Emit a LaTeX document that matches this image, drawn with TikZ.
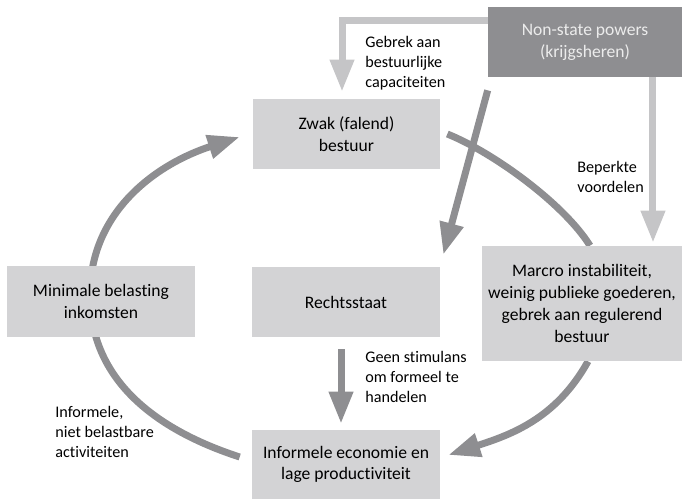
\documentclass[tikz,border=0pt]{standalone}
\usepackage{fontspec}
\setmainfont[Ligatures=NoCommon]{Carlito}
\usetikzlibrary{arrows.meta,backgrounds}

\definecolor{boxgrey}{RGB}{211,211,213}
\definecolor{darkgrey}{RGB}{142,142,145}
\definecolor{lightgrey}{RGB}{197,197,199}
\definecolor{textgrey}{RGB}{236,236,236}

\tikzset{
	box/.style={fill=boxgrey, minimum width=3.76cm, minimum height=1.4cm, align=center, inner sep=0pt, font=\fontsize{10}{12.4}\selectfont},
	note/.style={align=left, inner sep=0pt, font=\fontsize{9.2}{11.3}\selectfont},
	darkarrow/.style={line width=0.14cm, color=darkgrey, -{Triangle[width=0.46cm,length=0.64cm]}},
	lightarrow/.style={line width=0.14cm, color=lightgrey, -{Triangle[width=0.46cm,length=0.64cm]}},
	darkline/.style={line width=0.14cm, color=darkgrey},
}

\begin{document}
\begin{tikzpicture}[x=0.02cm, y=0.02cm]
		%%%%% START %%%%%
		\useasboundingbox (0,0) rectangle (682,499);
		
		\node[box, fill=darkgrey, text=textgrey, minimum width=3.88cm] (nonstate) at (585,457) {Non-state powers\\(krijgsheren)};
		\node[box, minimum width=3.74cm] (zwak) at (346.5,365) {Zwak (falend)\\bestuur};
		\node[box] (recht) at (346,197) {Rechtsstaat};
		\node[box, minimum height=1.42cm] (minimale) at (101,197.5) {Minimale belasting\\inkomsten};
		\node[box, minimum width=4cm, minimum height=2.3cm] (macro) at (582,195.5) {Marcro instabiliteit,\\weinig publieke goederen,\\gebrek aan regulerend\\bestuur};
		\node[box, minimum height=1.38cm] (informele) at (346,34.5) {Informele economie en\\lage productiviteit};
		
		\node[note, anchor=west] (gebrek) at (365,436) {Gebrek aan\\bestuurlijke\\capaciteiten};
		\node[note, anchor=west] (beperkte) at (577,322) {Beperkte\\voordelen};
		\node[note, anchor=west] (geen) at (365,122) {Geen stimulans\\om formeel te\\handelen};
		\node[note, anchor=west] (nietbelast) at (55,67) {Informele,\\niet belastbare\\activiteiten};
		
		\begin{scope}[on background layer]
			\draw[lightarrow, shorten >=0.14cm] ([yshift=-0.28cm]nonstate.north west) -| ([xshift=-0.09cm]zwak.north);
			\path ([xshift=1.36cm]nonstate.south) coordinate (beperk);
			\draw[lightarrow, shorten >=0.06cm] (beperk) -- (beperk |- macro.north);
			
			\draw[darkarrow] ([yshift=-0.26cm]nonstate.south west) -- ([shift={(0.06cm,0.24cm)}]recht.north east);
			\draw[darkarrow, shorten <=0.24cm, shorten >=0.12cm] ([xshift=-0.1cm]recht.south) -- ([xshift=-0.1cm]informele.north);
			
			% de cirkel
			\draw[darkline] ([xshift=0.14cm]zwak.east) to[out=-22,in=122,looseness=0.7] ([xshift=0.16cm]macro.north);
			\draw[darkarrow] ([xshift=0.12cm]macro.south) to[out=-119,in=18] ([shift={(0.16cm,0.19cm)}]informele.east);
			\coordinate (leftmost) at (90,204);
			\draw[darkarrow] ([shift={(-0.24cm,0.15cm)}]informele.west) to[out=162,in=-90] (leftmost) to[out=90,in=-162] ([shift={(-0.26cm,-0.06cm)}]zwak.west);
		\end{scope}
		
		%%%%% END %%%%%
\end{tikzpicture}
\end{document}
